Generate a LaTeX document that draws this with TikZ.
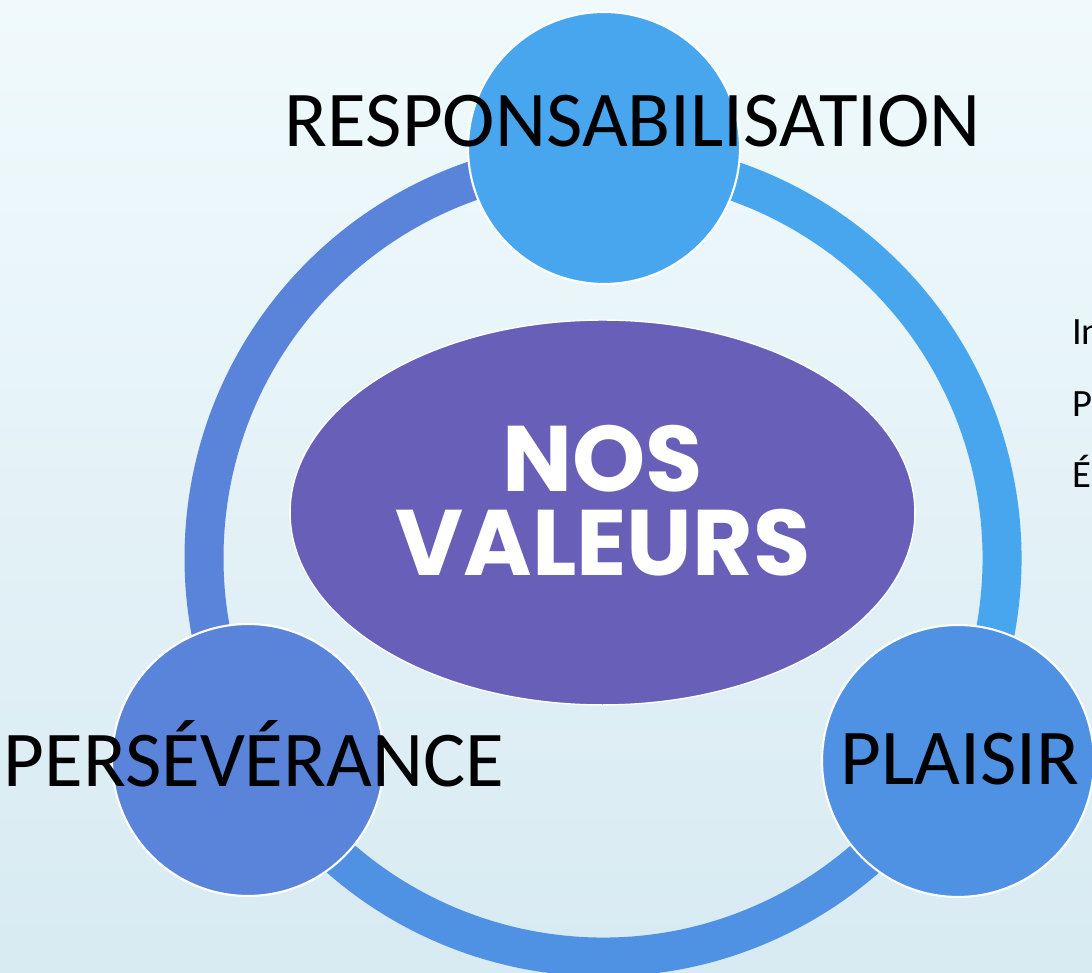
\documentclass[tikz,border=0pt]{standalone}
\usepackage{fontspec}
\usetikzlibrary{shapes.geometric}
\newfontfamily\labelfont{Carlito}
\newfontfamily\titrefont{Poppins}
\newfontfamily\cotefont{Carlito}
\definecolor{fondhaut}{HTML}{F0FAFC}
\definecolor{fondbas}{HTML}{D8EAF2}
\definecolor{bleugauche}{HTML}{5A83DA}
\definecolor{bleudroit}{HTML}{47A6EE}
\definecolor{bleubas}{HTML}{4F92E3}
\definecolor{violet}{HTML}{685FB8}

\tikzset{anneau/.style={line width=0.78cm},
	valeur/.style={circle,draw=white,line width=1.2pt,minimum size=5.44cm,inner sep=0pt},
	etiquette/.style={font=\labelfont\fontsize{45}{50}\selectfont,anchor=base},
	cote/.style={font=\cotefont\fontsize{22}{26}\selectfont,anchor=base west}}

\begin{document}
\begin{tikzpicture}[x=0.02cm,y=0.02cm]
	\shade[top color=fondhaut,bottom color=fondbas] (0,0) rectangle (1092,973) ;
	\useasboundingbox (0,0) rectangle (1092,973) ;

	% the ring, in three parts
	\draw[anneau,bleugauche] (603,415) ++(90:399) arc (90:210:399) ;
	\draw[anneau,bleubas] (603,415) ++(210:399) arc (210:330:399) ;
	\draw[anneau,bleudroit] (603,415) ++(-30:399) arc (-30:90:399) ;

	\node[ellipse,fill=violet,draw=white,line width=0.8pt,minimum width=12.5cm,minimum height=7.7cm] (coeur) at (602.5,460.5) {} ;
	\node[font=\titrefont\bfseries\fontsize{53}{48}\selectfont,text=white,align=center] (titre) at (603,472) {NOS\\VALEURS} ;

	\node[valeur,fill=bleudroit] (haut) at (604,825) {} ;
	\node[valeur,fill=bleugauche] (gauche) at (248,213) {} ;
	\node[valeur,fill=bleubas] (droite) at (958,212) {} ;

	\node[etiquette] (resp) at (633,826) {RESPONSABILISATION} ;
	\node[etiquette] (pers) at (254,186) {PERSÉVÉRANCE} ;
	\node[etiquette] (plai) at (960,188) {PLAISIR} ;

	\node[cote] (c1) at (1066,628) {In} ;
	\node[cote] (c2) at (1066,556) {Pa} ;
	\node[cote] (c3) at (1066,485) {É} ;
\end{tikzpicture}
\end{document}
